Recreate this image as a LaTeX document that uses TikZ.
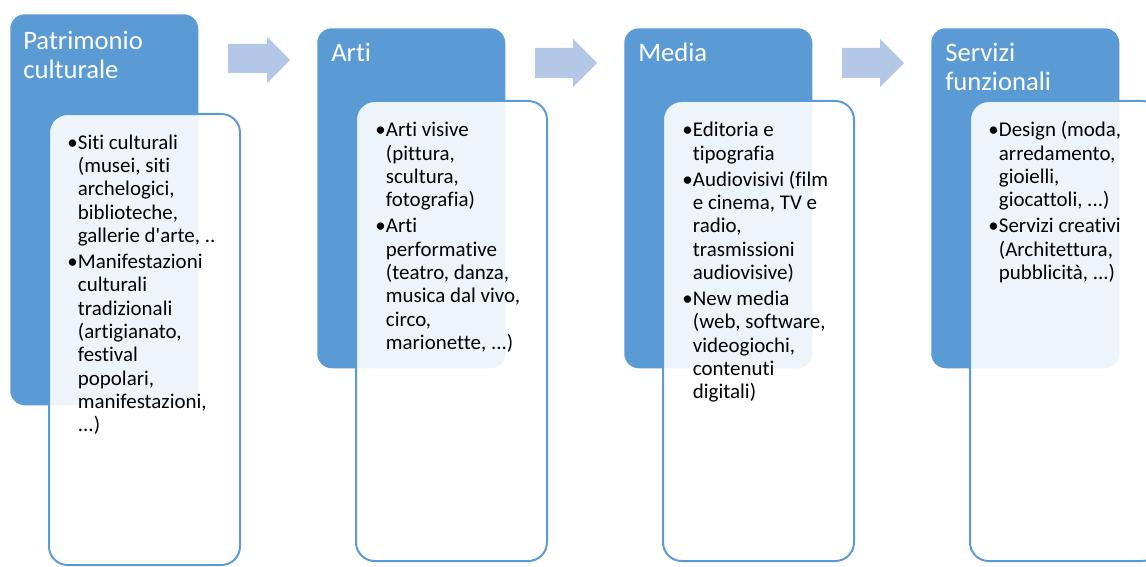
\documentclass[tikz,border=0pt]{standalone}
\usepackage{fontspec}
\setmainfont{Carlito}[Ligatures={NoCommon}]
\usetikzlibrary{positioning}
\definecolor{hdblue}{HTML}{5B9BD5}
\definecolor{arblue}{HTML}{B4C7E7}
\newcommand{\bul}{\makebox[8pt][l]{\textbullet}}
\newcommand{\tpt}{.\kern0pt.\kern0pt.}
\newcommand{\hd}[1]{\fontsize{20}{21.75}\selectfont\begin{tabular}[t]{@{}l@{}}#1\end{tabular}}
\newcommand{\lst}[1]{\fontsize{15.7}{17.5}\selectfont\begin{tabular}[t]{@{}l@{}l@{}}#1\end{tabular}}

\begin{document}
\begin{tikzpicture}[x=0.75pt,y=-0.75pt,
   catbox/.style={fill=hdblue,rounded corners=11pt,anchor=north west,minimum width=141pt,inner sep=0},
   listbox/.style={draw=hdblue,line width=1.5pt,fill=white,fill opacity=0.9,rounded corners=14pt,anchor=north west,minimum width=143.25pt,inner sep=0},
   headtext/.style={text=white,anchor=base west,inner sep=0},
   listtext/.style={anchor=base west,inner sep=0},
   bigarrow/.style={fill=arblue}]
       \useasboundingbox (0,0) rectangle (1146,567);
       \clip (0,0) rectangle (1146,567);
       \node[catbox,minimum height=293.25pt] (pat) at ( 10,14) {};
       \node[catbox,minimum height=255pt]    (art) at (317,28) {};
       \node[catbox,minimum height=255pt]    (med) at (624,28) {};
       \node[catbox,minimum height=255pt]    (ser) at (931,28) {};
       \fill[bigarrow] (228,44) -- (267,44) -- (267,37) -- (290,60) -- (267,83) -- (267,73) -- (228,73) -- cycle;
       \fill[bigarrow] (535,48) -- (573,48) -- (573,39) -- (597,63) -- (573,87) -- (573,78) -- (535,78) -- cycle;
       \fill[bigarrow] (842,48) -- (880,48) -- (880,39) -- (904,63) -- (880,87) -- (880,78) -- (842,78) -- cycle;
       \node[listbox,minimum height=338.25pt] (patl) at ( 48,113) {};
       \node[listbox,minimum height=345pt]    (artl) at (355,100) {};
       \node[listbox,minimum height=345pt]    (medl) at (662,100) {};
       \node[listbox,minimum height=345pt]    (serl) at (969,100) {};
       \node[headtext] (patt) at ( 23,50) {\hd{Patrimonio\\culturale}};
       \node[headtext] (artt) at (331,62) {\hd{Arti}};
       \node[headtext] (medt) at (638,62) {\hd{Media}};
       \node[headtext] (sert) at (945,62) {\hd{Servizi\\funzionali}};
       \node[listtext] (patx) at ( 67,149) {\lst{\bul & Siti culturali\\ & (musei, siti\\ & archelogici,\\ & biblioteche,\\ & gallerie d\textquotesingle arte, .\kern0pt.\\[2pt]
          \bul & Manifestazioni\\ & culturali\\ & tradizionali\\ & (artigianato,\\ & festival\\ & popolari,\\ & manifestazioni,\\ & \tpt)}};
       \node[listtext] (artx) at (375,137) {\lst{\bul & Arti visive\\ & (pittura,\\ & scultura,\\ & fotografia)\\[2pt]
          \bul & Arti\\ & performative\\ & (teatro, danza,\\ & musica dal vivo,\\ & circo,\\ & marionette, \tpt)}};
       \node[listtext] (medx) at (682,137) {\lst{\bul & Editoria e\\ & tipografia\\[2pt]
          \bul & Audiovisivi (film\\ & e cinema, TV e\\ & radio,\\ & trasmissioni\\ & audiovisive)\\[2pt]
          \bul & New media\\ & (web, software,\\ & videogiochi,\\ & contenuti\\ & digitali)}};
       \node[listtext] (serx) at (988,137) {\lst{\bul & Design (moda,\\ & arredamento,\\ & gioielli,\\ & giocattoli, \tpt)\\[2pt]
          \bul & Servizi creativi\\ & (Architettura,\\ & pubblicità, \tpt)}};
      \end{tikzpicture}
\end{document}
